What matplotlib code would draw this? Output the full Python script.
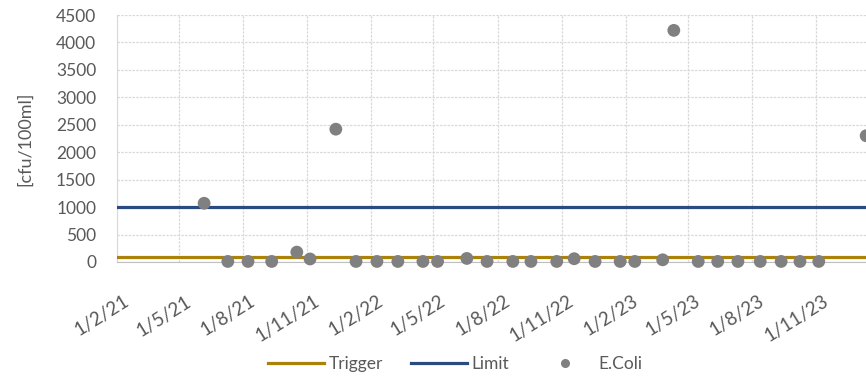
import matplotlib
matplotlib.use("Agg")
import matplotlib.pyplot as plt
import matplotlib.dates as mdates
import matplotlib.transforms as mtransforms
from matplotlib.lines import Line2D
import pandas as pd

# E. coli sampling results
sample_dates = [
    "2021-06-06", "2021-07-10", "2021-08-08", "2021-09-11", "2021-10-17",
    "2021-11-05", "2021-12-12", "2022-01-10", "2022-02-09", "2022-03-11",
    "2022-04-16", "2022-05-07", "2022-06-18", "2022-07-17", "2022-08-23",
    "2022-09-18", "2022-10-25", "2022-11-19", "2022-12-19", "2023-01-24",
    "2023-02-14", "2023-03-26", "2023-04-11", "2023-05-16", "2023-06-13",
    "2023-07-12", "2023-08-13", "2023-09-12", "2023-10-09", "2023-11-05",
    "2024-01-12",
]
ecoli = [
    1070, 10, 10, 10, 180,
    55, 2420, 10, 10, 10,
    10, 10, 65, 10, 10,
    10, 10, 60, 10, 10,
    10, 40, 4220, 10, 10,
    10, 10, 10, 10, 10,
    2300,
]

trigger_level = 100
limit_level = 1000

y_ticks = list(range(0, 4501, 500))
x_start = "2021-02-01"
x_end = "2024-01-25"

TRIGGER_COLOR = "#AB8209"
LIMIT_COLOR = "#2B4A80"
POINT_COLOR = "#808080"
TEXT_COLOR = "#595959"
GRID_COLOR = "#D9D9D9"
FS = 12.5

plt.rcParams["font.family"] = ["Lato", "DejaVu Sans"]

W, H = 866, 377
fig = plt.figure(figsize=(W / 100, H / 100), dpi=100)

x0 = pd.Timestamp(x_start)
x1 = pd.Timestamp(x_end)
px_per_day = 0.6969
left_px, top_px, bottom_px = 117, 15, 262
right_px = left_px + (x1 - x0).days * px_per_day
ax = fig.add_axes([left_px / W, 1 - bottom_px / H,
                   (right_px - left_px) / W, (bottom_px - top_px) / H])

dates = pd.to_datetime(sample_dates)

ax.axhline(trigger_level, color=TRIGGER_COLOR, lw=2.3, zorder=3)
ax.axhline(limit_level, color=LIMIT_COLOR, lw=2.3, zorder=3)
ax.scatter(dates, ecoli, s=85, color=POINT_COLOR, zorder=4,
           edgecolors="none", clip_on=False)

ax.set_xlim(x0, x1)
ax.set_ylim(0, 4500)
ax.set_yticks(y_ticks)

ax.xaxis.set_major_locator(mdates.MonthLocator(bymonth=[2, 5, 8, 11], bymonthday=1))
ax.xaxis.set_major_formatter(
    plt.FuncFormatter(lambda v, pos: (lambda d: f"{d.day}/{d.month}/{d.strftime('%y')}")(mdates.num2date(v)))
)

ax.grid(True, color=GRID_COLOR, lw=0.9, ls=(0, (2, 1)))
ax.set_axisbelow(True)
for s in ["top", "right"]:
    ax.spines[s].set_visible(False)
ax.spines["left"].set_color(GRID_COLOR)
ax.spines["bottom"].set_color("#BFBFBF")
ax.tick_params(axis="both", length=0, colors=TEXT_COLOR, labelsize=FS)
ax.tick_params(axis="x", labelsize=13.5, pad=22)
ax.tick_params(axis="y", pad=15)
shift = mtransforms.ScaledTranslation(6 / 100, 0, fig.dpi_scale_trans)
for lab in ax.get_xticklabels():
    lab.set_rotation(32)
    lab.set_ha("right")
    lab.set_va("top")
    lab.set_rotation_mode("anchor")
    lab.set_transform(lab.get_transform() + shift)

ax.set_ylabel("[cfu/100ml]", color=TEXT_COLOR, fontsize=13)
ax.yaxis.set_label_coords(-(left_px - 33) / (right_px - left_px), 0.5)

handles = [
    Line2D([], [], color=TRIGGER_COLOR, lw=2.3),
    Line2D([], [], color=LIMIT_COLOR, lw=2.3),
    Line2D([], [], color=POINT_COLOR, marker="o", ls="none", markersize=6.5,
           markeredgewidth=0),
]
fig.legend(handles, ["Trigger", "Limit", "E.Coli"], loc="center",
           bbox_to_anchor=(455 / W, 13 / H), ncol=3, frameon=False,
           fontsize=FS, labelcolor=TEXT_COLOR, handlelength=3.2,
           handletextpad=0.3, columnspacing=1.6)

fig.savefig("out.png", dpi=100)
